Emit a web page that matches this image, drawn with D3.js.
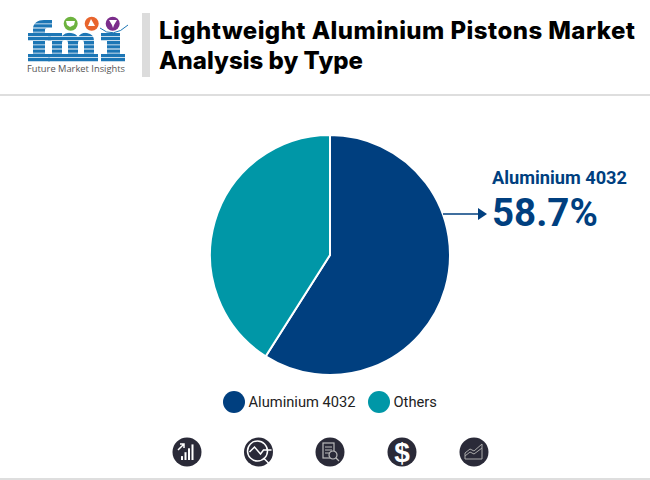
<!DOCTYPE html>
<html>
<head>
<meta charset="utf-8">
<script src="https://cdn.jsdelivr.net/npm/d3@7"></script>
<style>
  html, body { margin: 0; padding: 0; background: #fff; }
  svg { display: block; font-family: Roboto, sans-serif; }
</style>
</head>
<body>
<svg id="chart" width="650" height="480"></svg>
<script>
const categories = ["Aluminium 4032", "Others"];
// slice sizes as drawn in the picture, the printed label is a little lower
const shares = [59, 41];
const calloutLabel = "58.7%";
const colors = ["#003f7f", "#0097a7"];
const titleLines = ["Lightweight Aluminium Pistons Market", "Analysis by Type"];
const titleWidths = [476, 204];

const svg = d3.select("#chart");

// header
svg.append("rect").attr("x", 142).attr("y", 13).attr("width", 8).attr("height", 64).attr("fill", "#dcdcdc");
svg.append("rect").attr("x", 0).attr("y", 94).attr("width", 650).attr("height", 2).attr("fill", "#dedede");
svg.append("rect").attr("x", 0).attr("y", 478).attr("width", 650).attr("height", 2).attr("fill", "#dedede");

svg.selectAll(".title")
    .data(titleLines)
    .join("text")
    .attr("class", "title")
    .attr("x", 159)
    .attr("y", (d, i) => 39 + i * 30)
    .attr("font-family", "Inter, sans-serif")
    .attr("font-size", 24)
    .attr("font-weight", 800)
    .attr("textLength", (d, i) => titleWidths[i])
    .attr("fill", "#000")
    .text(d => d);

// logo, letters cut into stripes
const stripes = svg.append("defs").append("clipPath").attr("id", "stripes");
d3.range(20, 62, 4.2).forEach(y => {
    stripes.append("rect").attr("x", 20).attr("y", y).attr("width", 115).attr("height", 3.4);
});
const logo = svg.append("g");
const letters = logo.append("g").attr("clip-path", "url(#stripes)").attr("fill", "#1c76b5");
letters.append("path") // f
    .attr("d", "M28 33H33V29C33 23 38 20 44 20H52V28H47C45.500 28 45 29 45 30V33H51V41H45V54H50V62H28V54H33V41H28Z");
letters.append("path") // m
    .attr("d", "M48 33H62V36Q66 32 71 33Q76 33.500 78 37Q82 32 87 33Q94 34 94 41V54H98V62H81V54H84V43Q84 40 81 40Q78 40 78 43V54H81V62H65V54H68V43Q68 40 65 40Q62 40 62 43V54H65V62H48V54H52V41H48Z");
letters.append("path") // i
    .attr("d", "M101 33H120V54H125V62H101V54H107V41H101Z");
logo.selectAll(".dot")
    .data(["#6db33f", "#e8642c", "#7b2d8b"])
    .join("circle")
    .attr("class", "dot")
    .attr("cx", (d, i) => 70.700 + i * 21)
    .attr("cy", 23.700)
    .attr("r", 7)
    .attr("fill", d => d);
logo.selectAll(".blob")
    .data(["M66 21H75L74 25L70 27L67 25Z", "M91 19L95 26H88Z", "M109 20H117L114 25L113 28L112 25Z"])
    .join("path")
    .attr("class", "blob")
    .attr("d", d => d)
    .attr("fill", "#fff");
logo.append("path")
    .attr("d", "M100 28 Q113 39 128 25")
    .attr("fill", "none")
    .attr("stroke", "#1c76b5")
    .attr("stroke-width", 1);
logo.append("text")
    .attr("x", 27).attr("y", 72)
    .attr("font-family", "'Open Sans', sans-serif")
    .attr("font-size", 9.500)
    .attr("textLength", 98)
    .attr("lengthAdjust", "spacingAndGlyphs")
    .attr("fill", "#555")
    .text("Future Market Insights");

// pie
const pie = d3.pie().sort(null).value(d => d);
const arc = d3.arc().innerRadius(0).outerRadius(120);
const chart = svg.append("g").attr("transform", "translate(330,255)");
chart.selectAll("path")
    .data(pie(shares))
    .join("path")
    .attr("d", arc)
    .attr("fill", (d, i) => colors[i])
    .attr("stroke", "#fff")
    .attr("stroke-width", 2);

// callout
svg.append("line").attr("x1", 443).attr("y1", 214).attr("x2", 482).attr("y2", 214)
    .attr("stroke", colors[0]).attr("stroke-width", 1.500);
svg.append("path").attr("d", "M478 208 L487 214 L478 220 Z").attr("fill", colors[0]);
svg.append("text").attr("x", 492).attr("y", 184)
    .attr("font-size", 18.200).attr("font-weight", 700).attr("fill", colors[0])
    .text(categories[0]);
svg.append("text").attr("x", 492).attr("y", 226)
    .attr("font-size", 38.500).attr("font-weight", 700).attr("fill", colors[0])
    .text(calloutLabel);

// legend
const legendX = [234, 379];
const legend = svg.selectAll(".legend")
    .data(categories)
    .join("g")
    .attr("class", "legend")
    .attr("transform", (d, i) => `translate(${legendX[i]},402)`);
legend.append("circle").attr("r", 11).attr("fill", (d, i) => colors[i]);
legend.append("text").attr("x", 14.500).attr("y", 5)
    .attr("font-size", 14.700).attr("fill", "#222").text(d => d);

// footer icons
const iconX = [187, 258.500, 330, 402, 474];
const icons = svg.selectAll(".icon")
    .data(iconX)
    .join("g")
    .attr("class", "icon")
    .attr("transform", d => `translate(${d},452)`);
icons.append("circle").attr("r", 14.500).attr("fill", "#2a2a38");

// bars + arrow
const i0 = d3.select(icons.nodes()[0]);
i0.selectAll("rect").data([3, 6, 9, 12]).join("rect")
    .attr("x", (d, i) => -6 + i * 3.500).attr("y", d => 8 - d * 1.300)
    .attr("width", 2).attr("height", d => d * 1.300).attr("fill", "#fff");
i0.append("path").attr("d", "M-9 -2 L-3 -8 M-7 -8 L-3 -8 L-3 -4").attr("stroke", "#fff").attr("stroke-width", 1.500).attr("fill", "none");

// magnifier
const i1 = d3.select(icons.nodes()[1]);
i1.append("circle").attr("cx", -1).attr("cy", -1).attr("r", 10).attr("fill", "none").attr("stroke", "#fff").attr("stroke-width", 1.500);
i1.append("path").attr("d", "M-9 0 L-4 -5 L2 2 L5 -2 L13 -2 M5 6 L11 12").attr("fill", "none").attr("stroke", "#fff").attr("stroke-width", 1.500);

// document
const i2 = d3.select(icons.nodes()[2]);
i2.append("rect").attr("x", -7).attr("y", -9).attr("width", 11).attr("height", 15).attr("fill", "none").attr("stroke", "#bbb").attr("stroke-width", 1.200);
i2.append("path").attr("d", "M-5 -5 H2 M-5 -2 H2 M-5 1 H0").attr("stroke", "#bbb").attr("stroke-width", 1);
i2.append("circle").attr("cx", 3).attr("cy", 3).attr("r", 4).attr("fill", "#2a2a38").attr("stroke", "#bbb").attr("stroke-width", 1.200);
i2.append("path").attr("d", "M6 6 L9 9").attr("stroke", "#bbb").attr("stroke-width", 1.200);

// dollar
d3.select(icons.nodes()[3]).append("text").attr("text-anchor", "middle").attr("y", 10)
    .attr("font-family", "'Liberation Sans', sans-serif")
    .attr("font-size", 28).attr("font-weight", 700).attr("fill", "#fff").text("$");

// area trend
const i4 = d3.select(icons.nodes()[4]);
i4.append("path").attr("d", "M-9 1 L-4 -3 L0 -1 L8 -8 V7 H-9 Z").attr("fill", "none").attr("stroke", "#aaa").attr("stroke-width", 1);
i4.append("path").attr("d", "M-9 4 L-4 0 L0 2 L8 -4").attr("fill", "none").attr("stroke", "#aaa").attr("stroke-width", 1);
</script>
</body>
</html>
